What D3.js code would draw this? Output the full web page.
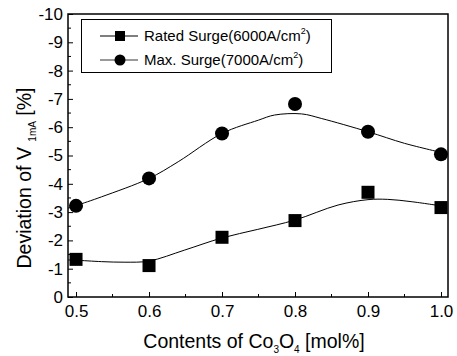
<!DOCTYPE html>
<html>
<head>
<meta charset="utf-8">
<script src="https://cdn.jsdelivr.net/npm/d3@7"></script>
<style>
  body { margin: 0; background: #fff; }
  svg { display: block; font-family: "Liberation Sans", Arial, sans-serif; }
</style>
</head>
<body>
<svg id="chart" width="457" height="356"></svg>
<script>
// Co3O4 content (mol%) for the measured points.
var contents = [0.5, 0.6, 0.7, 0.8, 0.9, 1.0];

// Deviation of V1mA (%) for each surge level.
var ratedSurge = [-1.33, -1.11, -2.11, -2.70, -3.70, -3.16];
var maxSurge = [-3.22, -4.19, -5.78, -6.82, -5.84, -5.04];

// Fitted curves as [x, y] points.
var ratedFit = [
  [0.489, -1.31], [0.5, -1.30], [0.535, -1.25], [0.567, -1.23], [0.6, -1.27],
  [0.649, -1.66], [0.699, -2.08], [0.749, -2.39], [0.8, -2.72], [0.859, -3.25],
  [0.9, -3.44], [0.927, -3.45], [0.959, -3.37], [1.0, -3.22]
];
var maxFit = [
  [0.489, -3.14], [0.5, -3.23], [0.535, -3.54], [0.6, -4.19], [0.64, -4.78],
  [0.7, -5.78], [0.75, -6.25], [0.772, -6.43], [0.809, -6.47], [0.836, -6.31],
  [0.9, -5.84], [0.95, -5.43], [1.005, -5.08]
];

// Axis ticks.
var xTicks = [0.5, 0.6, 0.7, 0.8, 0.9, 1.0];
var xMinor = [0.55, 0.65, 0.75, 0.85, 0.95];
var yTicks = [0, -1, -2, -3, -4, -5, -6, -7, -8, -9, -10];
var yMinor = [-0.5, -1.5, -2.5, -3.5, -4.5, -5.5, -6.5, -7.5, -8.5, -9.5];

var svg = d3.select('#chart');

// Plot frame in pixels.
var plotL = 68, plotT = 14, plotR = 448, plotB = 297;

var x = d3.scaleLinear().domain([0.489, 1.0096]).range([plotL, plotR]);
var y = d3.scaleLinear().domain([0, -10]).range([plotB, plotT]);

// Bottom axis, ticks pointing inward.
var xAxis = d3.axisBottom(x)
  .tickValues(xTicks)
  .tickSize(-5)
  .tickPadding(9)
  .tickFormat(d3.format('.1f'));
var gx = svg.append('g')
  .attr('transform', 'translate(0,' + plotB + ')')
  .call(xAxis);
gx.select('.domain').remove();
gx.selectAll('.tick text')
  .attr('font-size', 17)
  .attr('font-family', '"Liberation Sans", Arial, sans-serif')
  .attr('y', 8);

svg.append('g')
  .selectAll('line')
  .data(xMinor)
  .join('line')
  .attr('x1', function(d) { return x(d); })
  .attr('x2', function(d) { return x(d); })
  .attr('y1', plotB)
  .attr('y2', plotB - 3)
  .attr('stroke', '#000');

// Left axis, ticks pointing inward.
var yAxis = d3.axisLeft(y)
  .tickValues(yTicks)
  .tickSize(-5)
  .tickPadding(6)
  .tickFormat(function(d) { return d === 0 ? '0' : String(d); });
var gy = svg.append('g')
  .attr('transform', 'translate(' + plotL + ',0)')
  .call(yAxis);
gy.select('.domain').remove();
gy.selectAll('.tick text')
  .attr('font-size', 17)
  .attr('font-family', '"Liberation Sans", Arial, sans-serif')
  .attr('x', -5);

svg.append('g')
  .selectAll('line')
  .data(yMinor)
  .join('line')
  .attr('x1', plotL)
  .attr('x2', plotL + 3)
  .attr('y1', function(d) { return y(d); })
  .attr('y2', function(d) { return y(d); })
  .attr('stroke', '#000');

// Frame.
svg.append('rect')
  .attr('x', plotL)
  .attr('y', plotT)
  .attr('width', plotR - plotL)
  .attr('height', plotB - plotT)
  .attr('fill', 'none')
  .attr('stroke', '#000')
  .attr('stroke-width', 1.5);

// Fit curves.
var line = d3.line()
  .x(function(d) { return x(d[0]); })
  .y(function(d) { return y(d[1]); })
  .curve(d3.curveCatmullRom);

svg.append('path').datum(ratedFit)
  .attr('d', line).attr('fill', 'none').attr('stroke', '#000').attr('stroke-width', 1);
svg.append('path').datum(maxFit)
  .attr('d', line).attr('fill', 'none').attr('stroke', '#000').attr('stroke-width', 1);

// Markers.
var sq = 13;
svg.append('g')
  .selectAll('rect')
  .data(contents)
  .join('rect')
  .attr('x', function(d) { return x(d) - sq / 2; })
  .attr('y', function(d, i) { return y(ratedSurge[i]) - sq / 2; })
  .attr('width', sq)
  .attr('height', sq)
  .attr('fill', '#000');

svg.append('g')
  .selectAll('circle')
  .data(contents)
  .join('circle')
  .attr('cx', function(d) { return x(d); })
  .attr('cy', function(d, i) { return y(maxSurge[i]); })
  .attr('r', 7)
  .attr('fill', '#000');

// Legend.
var legend = svg.append('g');
legend.append('rect')
  .attr('x', 81.5).attr('y', 19.5)
  .attr('width', 250).attr('height', 53)
  .attr('fill', '#fff').attr('stroke', '#000').attr('stroke-width', 1);

legend.append('line')
  .attr('x1', 100).attr('x2', 138).attr('y1', 36).attr('y2', 36)
  .attr('stroke', '#000').attr('stroke-width', 1.2);
legend.append('rect')
  .attr('x', 115).attr('y', 31).attr('width', 10).attr('height', 10).attr('fill', '#000');
legend.append('line')
  .attr('x1', 100).attr('x2', 138).attr('y1', 60).attr('y2', 60)
  .attr('stroke', '#000').attr('stroke-width', 0.8);
legend.append('circle')
  .attr('cx', 120).attr('cy', 60).attr('r', 5.5).attr('fill', '#000');

function legendText(yPos, label) {
  var t = legend.append('text')
    .attr('x', 144).attr('y', yPos)
    .attr('font-size', 15);
  t.append('tspan').text(label);
  t.append('tspan').attr('font-size', 9).attr('dy', -7).text('2');
  t.append('tspan').attr('dy', 7).text(')');
}
legendText(41, 'Rated Surge(6000A/cm');
legendText(65, 'Max. Surge(7000A/cm');

// X axis title.
var xt = svg.append('text')
  .attr('x', 254).attr('y', 348)
  .attr('text-anchor', 'middle')
  .attr('font-size', 19.5);
xt.append('tspan').text('Contents of Co');
xt.append('tspan').attr('font-size', 10).attr('dy', 5).text('3');
xt.append('tspan').attr('dy', -5).text('O');
xt.append('tspan').attr('font-size', 10).attr('dy', 5).text('4');
xt.append('tspan').attr('dy', -5).text(' [mol%]');

// Y axis title.
var yt = svg.append('text')
  .attr('transform', 'translate(31,178) rotate(-90)')
  .attr('text-anchor', 'middle')
  .attr('font-size', 19.5);
yt.append('tspan').text('Deviation of V ');
yt.append('tspan').attr('font-size', 10).attr('dy', 5).text('1mA');
yt.append('tspan').attr('dy', -5).text(' [%]');
</script>
</body>
</html>
